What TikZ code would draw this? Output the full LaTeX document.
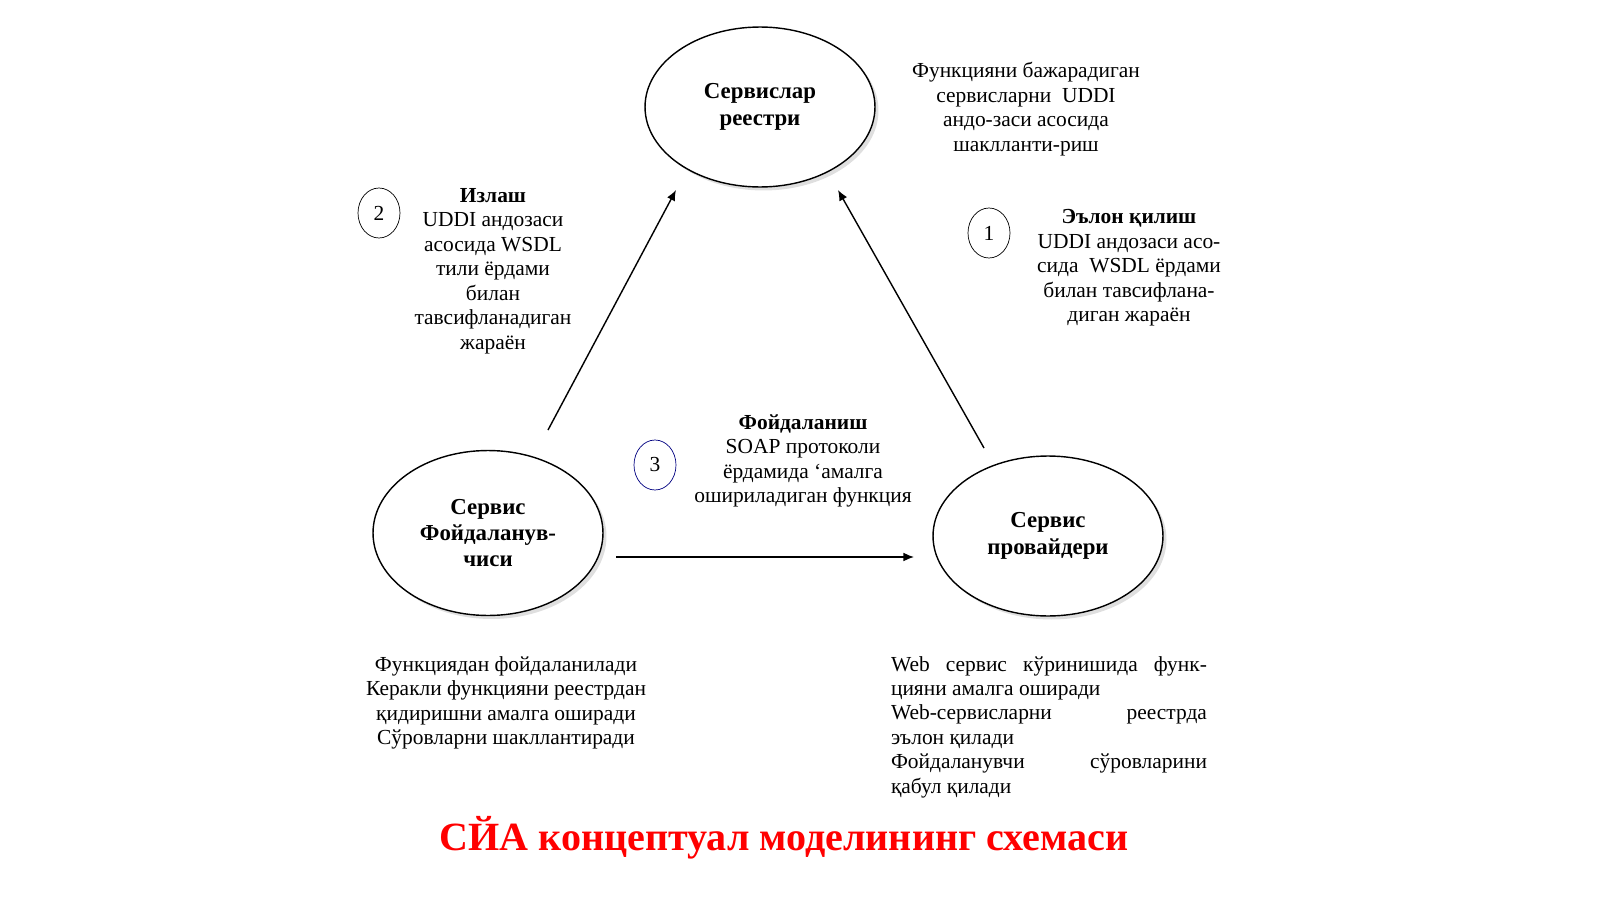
\documentclass[tikz,border=0pt]{standalone}
\usepackage{fontspec}
\setmainfont{Liberation Serif}
\usetikzlibrary{shadows,arrows.meta,shapes.geometric}

\begin{document}
\begin{tikzpicture}[x=0.02cm,y=-0.02cm,
    role/.style={draw,thick,ellipse,font=\bfseries\fontsize{13}{15}\selectfont,align=center,
        fill=white,drop shadow={opacity=0.25,shadow xshift=2pt,shadow yshift=-2pt}},
    step num/.style={draw,ellipse,minimum width=0.84cm,minimum height=1cm,inner sep=0pt},
    note/.style={align=center},
    link/.style={-{Latex[length=6pt,width=5pt]},thick}]
\useasboundingbox (0,0) rectangle (1600,899);
\fontsize{12.2}{13.9}\selectfont
% ishtirokchilar
\node[role,minimum width=4.6cm,minimum height=3.2cm] (registry) at (760,107) {Сервислар\\реестри};
\node[role,minimum width=4.6cm,minimum height=3.3cm] (consumer) at (488,533) {Сервис\\Фойдаланув-\\чиси};
\node[role,minimum width=4.6cm,minimum height=3.2cm] (provider) at (1048,536) {Сервис\\провайдери};
% boglanishlar
\coordinate (c1) at (548,430); \coordinate (r1) at (676,190);
\coordinate (p1) at (984,448); \coordinate (r2) at (838,190);
\coordinate (c2) at (616,557); \coordinate (p2) at (914,557);
\draw[link] (c1) -- (r1);
\draw[link] (p1) -- (r2);
\draw[link] (c2) -- (p2);
% raqamlar
\node[step num] (n2) at (379,213) {2};
\node[step num] (n1) at (989,233) {1};
\node[step num,draw=blue!50!black] (n3) at (655,465) {3};
% izohlar
\node[note] (find) at (493,271) {\textbf{Излаш}\\UDDI андозаси\\асосида WSDL\\тили ёрдами\\билан\\тавсифланадиган\\жараён};
\node[note] (publish) at (1129,268) {\textbf{Эълон қилиш}\\UDDI андозаси асо-\\сида\ \ WSDL ёрдами\\билан тавсифлана-\\диган жараён};
\node[note] (use) at (803,461) {\textbf{Фойдаланиш}\\SOAP протоколи\\ёрдамида `амалга\\ошириладиган функция};
\node[note] (regnote) at (1026,109) {Функцияни бажарадиган\\сервисларни\ \ UDDI\\андо-заси асосида\\шаклланти-риш};
\node[note] (connote) at (506,703) {Функциядан фойдаланилади\\Керакли функцияни реестрдан\\қидиришни амалга оширади\\Сўровларни шакллантиради};
\node[align=left] (provnote) at (1049,727) {%
  \makebox[6.32cm][s]{Web сервис кўринишида функ-}\\
  цияни амалга оширади\\
  \makebox[6.32cm][s]{Web-сервисларни реестрда}\\
  эълон қилади\\
  \makebox[6.32cm][s]{Фойдаланувчи сўровларини}\\
  қабул қилади};
\node[text=red,font=\bfseries\fontsize{22.8}{26}\selectfont] (title) at (784,838) {СЙА концептуал моделининг схемаси};
\end{tikzpicture}
\end{document}
